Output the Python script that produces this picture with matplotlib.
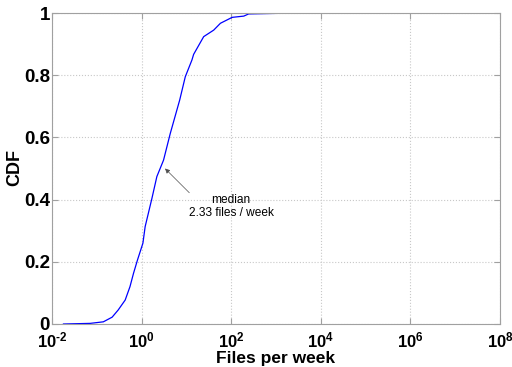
import numpy as np
import matplotlib
matplotlib.use("Agg")
import matplotlib.pyplot as plt
from matplotlib.ticker import FixedLocator, NullLocator

plt.rcParams["font.family"] = ["Liberation Sans", "DejaVu Sans"]
plt.rcParams["mathtext.fontset"] = "custom"
plt.rcParams["mathtext.rm"] = "Liberation Sans:bold"
plt.rcParams["mathtext.it"] = "Liberation Sans:bold"
plt.rcParams["mathtext.bf"] = "Liberation Sans:bold"
plt.rcParams["mathtext.default"] = "rm"

# Empirical CDF of files per week
files_per_week = [0.018, 0.071, 0.14, 0.22, 0.30, 0.43, 0.55, 0.66, 0.81,
                  1.07, 1.20, 1.70, 2.19, 3.09, 4.37, 7.08, 9.44, 13.3,
                  14.5, 24.3, 40.7, 57.5, 105, 191, 245, 1260, 10000, 36000]
cdf = [0.0, 0.002, 0.007, 0.022, 0.045, 0.077, 0.12, 0.163, 0.206,
       0.26, 0.313, 0.404, 0.474, 0.527, 0.613, 0.72, 0.795, 0.849,
       0.867, 0.924, 0.945, 0.967, 0.986, 0.99, 0.997, 0.999, 1.0, 1.0]

median_value = 2.33
median_cdf = 0.5

x_ticks = [1e-2, 1e0, 1e2, 1e4, 1e6, 1e8]
x_tick_labels = ["$10^{\\text{-2}}$", "$10^{0}$", "$10^{2}$", "$10^{4}$", "$10^{6}$", "$10^{8}$"]
y_ticks = [0, 0.2, 0.4, 0.6, 0.8, 1]
y_tick_labels = ["0", "0.2", "0.4", "0.6", "0.8", "1"]

fig = plt.figure(figsize=(5.12, 3.67), dpi=100)
ax = fig.add_axes([52 / 512, 43 / 367, 448 / 512, 311 / 367])

ax.plot(files_per_week, cdf, color="#0000ff", linewidth=0.9)
ax.set_xscale("log")
ax.set_xlim(1e-2, 1e8)
ax.set_ylim(0, 1)

ax.xaxis.set_major_locator(FixedLocator(x_ticks))
ax.xaxis.set_minor_locator(NullLocator())
ax.set_xticklabels(x_tick_labels)
ax.set_yticks(y_ticks)
ax.set_yticklabels(y_tick_labels)

spine_color = "#a0a0a0"
for s in ax.spines.values():
    s.set_color(spine_color)
    s.set_linewidth(0.8)
ax.tick_params(direction="in", length=4, color=spine_color, top=True, right=True)
ax.tick_params(axis="y", pad=1.5, labelsize=13.5)
ax.tick_params(axis="x", pad=5, labelsize=12)
for lab in ax.get_yticklabels():
    lab.set_fontweight("bold")

ax.grid(True, linestyle=":", color="#c8c8c8", linewidth=0.8)

ax.set_xlabel("Files per week", fontsize=12.5, fontweight="bold")
ax.xaxis.set_label_coords(0.5, -0.1254)
ax.xaxis.label.set_va("baseline")
ax.set_ylabel("CDF", fontsize=13, fontweight="bold")
ax.yaxis.set_label_coords(-0.0837, 0.503)
ax.yaxis.label.set_va("center")

# Median marker: arrow plus two-line caption
ax.annotate("", xy=(median_value * 1.43, median_cdf), xytext=(10 ** 1.065, 0.422),
            arrowprops=dict(arrowstyle="-|>", color="#505050", lw=0.5,
                            mutation_scale=7, shrinkA=0, shrinkB=0))
ax.text(10 ** 2.0, 0.378, "median\n" + f"{median_value:.2f} files / week",
        ha="center", va="center", fontsize=8.6, linespacing=1.15)

fig.savefig("out.png", dpi=100)
